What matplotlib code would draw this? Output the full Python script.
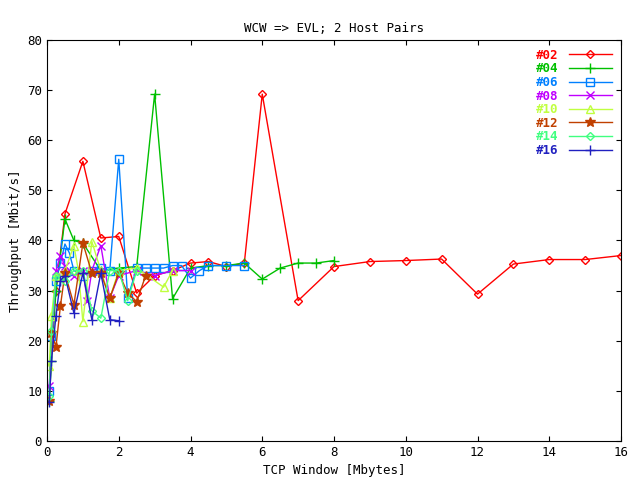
import matplotlib
matplotlib.use("Agg")
import matplotlib.pyplot as plt

labels = ["#02", "#04", "#06", "#08", "#10", "#12", "#14", "#16"]
colors = ["#ff0000", "#00c000", "#0080ff", "#c000ff", "#c0ff40", "#c04000", "#40ff80", "#2020c0"]
markers = ["D", "+", "s", "x", "^", "*", "D", "+"]
msizes = [4, 7, 6, 6, 6, 7, 4, 7]

x02 = [0.25, 0.5, 1.0, 1.5, 2, 2.5, 3, 3.5, 4, 4.5, 5, 5.5, 6, 7, 8, 9, 10, 11, 12, 13, 14, 15, 16]
y02 = [30, 45.3, 55.8, 40.5, 40.8, 29.5, 33, 34, 35.5, 35.8, 34.8, 35.5, 69.2, 28, 34.8, 35.8, 36, 36.3, 29.3, 35.3, 36.2, 36.2, 37]
x04 = [0.0625, 0.125, 0.25, 0.5, 0.75, 1, 1.5, 2, 2.5, 3, 3.5, 4, 4.5, 5, 5.5, 6, 6.5, 7, 7.5, 8]
y04 = [8, 16, 30, 44.3, 40, 39.5, 34, 34.5, 34.8, 69.2, 28.4, 34.5, 35, 35, 35.5, 32.3, 34.5, 35.5, 35.5, 36]
x06 = [0.0625, 0.125, 0.25, 0.375, 0.5, 0.625, 0.75, 1, 1.25, 1.5, 1.75, 2, 2.25, 2.5, 2.75, 3, 3.25, 3.5, 3.75, 4, 4.25, 4.5, 5, 5.5]
y06 = [10, 21, 32, 35.5, 39.3, 37.5, 34, 33, 34, 34.5, 34, 56.2, 28.5, 34.5, 34.5, 34.5, 34.5, 35, 35, 32.5, 34, 35, 35, 35]
x08 = [0.0625, 0.25, 0.375, 0.5, 0.75, 1, 1.125, 1.25, 1.5, 1.75, 2, 2.5, 3, 3.5, 4]
y08 = [11, 34, 37, 35, 33, 34, 28, 34, 39, 28.5, 33, 34, 33, 34, 34]
x10 = [0.0625, 0.125, 0.25, 0.5, 0.75, 0.875, 1.0, 1.25, 1.5, 1.75, 2, 2.5, 3.25, 3.5]
y10 = [15, 25, 33, 34, 39, 34, 23.8, 39.8, 34, 28.5, 34, 34.5, 30.7, 34]
x12 = [0.0625, 0.125, 0.25, 0.375, 0.5, 0.75, 1.0, 1.25, 1.5, 1.75, 2, 2.25, 2.5, 2.75]
y12 = [8, 21.5, 18.8, 27, 33.5, 27.2, 39.5, 33.5, 33.5, 28.5, 33.5, 29.5, 27.8, 33]
x14 = [0.0625, 0.125, 0.25, 0.5, 0.75, 1, 1.25, 1.5, 1.75, 2, 2.25, 2.5]
y14 = [9, 22, 33, 32, 34, 34, 26, 24.5, 34, 34, 28, 34]
x16 = [0.0625, 0.125, 0.25, 0.375, 0.5, 0.75, 1, 1.25, 1.5, 1.75, 2]
y16 = [7.8, 16, 25, 32, 33, 25.5, 33.5, 24.2, 33.5, 24.2, 24]

xs = [x02, x04, x06, x08, x10, x12, x14, x16]
ys = [y02, y04, y06, y08, y10, y12, y14, y16]

plt.rcParams["font.family"] = "DejaVu Sans Mono"
fig = plt.figure(figsize=(6.4, 4.8), dpi=100)
ax = fig.add_axes([47/640, 1-441/480, 574/640, 401/480])
for x, y, c, m, s, l in zip(xs, ys, colors, markers, msizes, labels):
    fill = c if m == "*" else "none"
    ax.plot(x, y, color=c, marker=m, markersize=s, mfc=fill, mec=c, lw=1, label=l)
ax.set_xlim(0, 16)
ax.set_ylim(0, 80)
ax.set_xticks(range(0, 17, 2))
ax.set_yticks(range(0, 81, 10))
ax.tick_params(direction="in", labelsize=9, top=True, right=True)
ax.set_xlabel("TCP Window [Mbytes]", fontsize=9)
ax.set_ylabel("Throughput [Mbit/s]", fontsize=9)
ax.set_title("WCW => EVL; 2 Host Pairs", fontsize=9)
leg = ax.legend(loc="upper right", frameon=False, fontsize=9, markerfirst=False,
                handlelength=3.5, labelspacing=0.05, borderaxespad=0.3)
for t, c in zip(leg.get_texts(), colors):
    t.set_color(c)
    t.set_fontweight("bold")
fig.savefig("out.png")
